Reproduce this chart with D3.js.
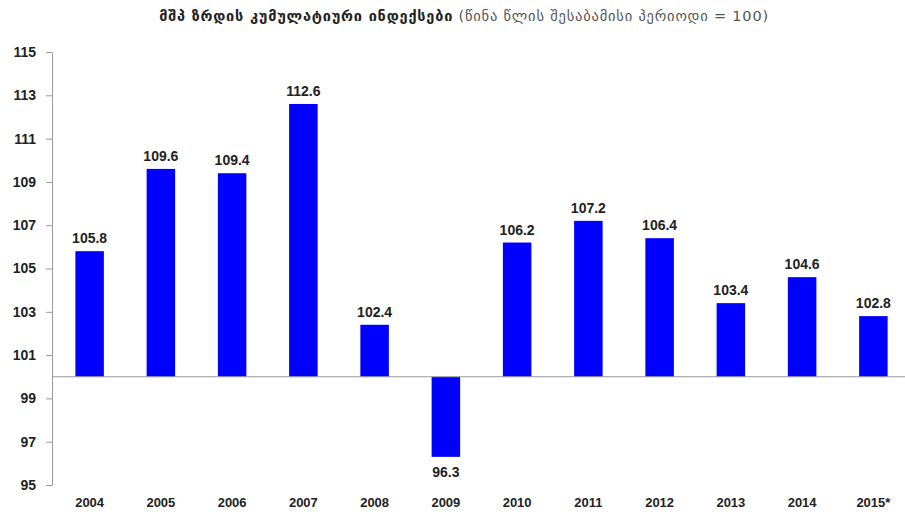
<!DOCTYPE html>
<html>
<head>
<meta charset="utf-8">
<script src="https://cdn.jsdelivr.net/npm/d3@7"></script>
<style>
  body { margin: 0; background: #fff; }
  svg text { font-family: "Liberation Sans", Arial, sans-serif; }
</style>
</head>
<body>
<svg id="chart" width="905" height="519"></svg>
<script>
const years = ['2004', '2005', '2006', '2007', '2008', '2009', '2010', '2011', '2012', '2013', '2014', '2015*'];
const values = [105.8, 109.6, 109.4, 112.6, 102.4, 96.3, 106.2, 107.2, 106.4, 103.4, 104.6, 102.8];
const yTicks = [95, 97, 99, 101, 103, 105, 107, 109, 111, 113, 115];
const titleBold = 'მშპ ზრდის კუმულატიური ინდექსები';
const titleNormal = ' (წინა წლის შესაბამისი პერიოდი = 100)';

const svg = d3.select('#chart');
const plotLeft = 52, plotRight = 905, plotTop = 52, plotBottom = 485;

const x = d3.scaleBand().domain(years).range([54, 909]).paddingInner(0.6).paddingOuter(0.3);
const y = d3.scaleLinear().domain([95, 115]).range([plotBottom, plotTop]);

// title
const title = svg.append('text')
    .attr('x', 464).attr('y', 21)
    .attr('text-anchor', 'middle')
    .style('font-family', '"DejaVu Sans", sans-serif')
    .style('font-size', '14.5px')
    .style('letter-spacing', '0.8px')
    .attr('fill', '#222');
title.append('tspan').style('font-weight', 'bold').text(titleBold);
title.append('tspan').attr('fill', '#555').text(titleNormal);

// y axis
const yAxis = svg.append('g')
    .attr('transform', `translate(${plotLeft},0)`)
    .call(d3.axisLeft(y).tickValues(yTicks).tickSize(6).tickPadding(10).tickSizeOuter(0));
yAxis.select('.domain').attr('stroke', '#999');
yAxis.selectAll('.tick line').attr('stroke', '#999');
yAxis.selectAll('.tick text')
    .style('font-size', '14px').style('font-weight', 'bold').attr('fill', '#222');

// bars
svg.selectAll('rect.bar')
    .data(values)
    .enter()
    .append('rect')
    .attr('class', 'bar')
    .attr('x', (d, i) => x(years[i]))
    .attr('width', x.bandwidth())
    .attr('y', d => y(Math.max(d, 100)))
    .attr('height', d => Math.abs(y(d) - y(100)))
    .attr('fill', '#0000ff');

// baseline at 100
svg.append('line')
    .attr('x1', plotLeft).attr('x2', plotRight)
    .attr('y1', y(100)).attr('y2', y(100))
    .attr('stroke', '#999');

// value labels
svg.selectAll('text.val')
    .data(values)
    .enter()
    .append('text')
    .attr('class', 'val')
    .attr('x', (d, i) => x(years[i]) + x.bandwidth() / 2)
    .attr('y', d => d >= 100 ? y(d) - 8 : y(d) + 20)
    .attr('text-anchor', 'middle')
    .style('font-size', '14px').style('font-weight', 'bold')
    .attr('fill', '#222')
    .text(d => d.toFixed(1));

// year labels
svg.selectAll('text.year')
    .data(years)
    .enter()
    .append('text')
    .attr('class', 'year')
    .attr('x', d => x(d) + x.bandwidth() / 2)
    .attr('y', 507)
    .attr('text-anchor', 'middle')
    .style('font-size', '13px').style('font-weight', 'bold')
    .attr('fill', '#222')
    .text(d => d);
</script>
</body>
</html>
